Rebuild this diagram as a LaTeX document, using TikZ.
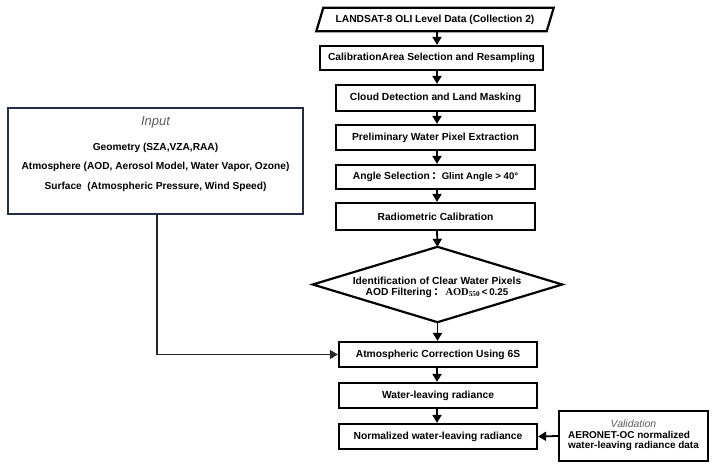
\documentclass[tikz,border=0pt]{standalone}
\usepackage{fontspec}
\setmainfont{Liberation Sans}
\newfontfamily\serifrm{Liberation Serif}
\newfontfamily\cjk{Noto Sans CJK SC}
\usetikzlibrary{arrows.meta}

\definecolor{navy}{HTML}{1F2D4A}
\definecolor{softgray}{HTML}{5C5C5C}

\tikzset{
  x=1bp, y=-1bp,
  boxtext/.style={font=\bfseries\fontsize{10.3}{12}\selectfont, align=center},
  stepbox/.style={boxtext, draw, line width=2.2bp, inner sep=0pt},
  outline/.style={line width=2.2bp, line join=miter},
  arr/.style={line width=1.8bp, -{Triangle[length=8bp,width=9bp]}},
  feed/.style={line width=1.3bp, draw=black!85, -{Triangle[length=8bp,width=9bp]}},
  inlabel/.style={font=\bfseries\fontsize{10.2}{12}\selectfont},
  caption/.style={font=\itshape, text=softgray},
}
\newcommand{\fwcolon}{{\cjk ：}}

\begin{document}
\begin{tikzpicture}
  \useasboundingbox (0,0) rectangle (716,470);

  % x position of the main column of arrows
  \coordinate (ax) at (437,0);

  % source data (parallelogram)
  \node[boxtext, minimum width=230bp, minimum height=23bp, inner sep=0pt] (src) at (435,19.5)
    {LANDSAT-8 OLI Level Data (Collection 2)};
  \draw[outline]
    ([xshift=3.5bp]src.north west) -- ([xshift=3.5bp]src.north east)
    -- ([xshift=-3.5bp]src.south east) -- ([xshift=-3.5bp]src.south west) -- cycle;

  % processing chain
  \node[stepbox, minimum width=223bp, minimum height=24bp] (b2) at (431.5,58)
    {CalibrationArea Selection and Resampling};
  \node[stepbox, minimum width=199bp, minimum height=26bp] (b3) at (435.5,98)
    {Cloud Detection and Land Masking};
  \node[stepbox, minimum width=199bp, minimum height=25bp] (b4) at (435.5,137.5)
    {Preliminary Water Pixel Extraction};
  \node[stepbox, minimum width=199bp, minimum height=24bp] (b5) at (435.5,177)
    {Angle Selection\,\fwcolon{\fontsize{9.6}{10}\selectfont Glint Angle \textgreater\ 40°}};
  \node[stepbox, minimum width=199bp, minimum height=27bp] (b6) at (435.5,216.5)
    {Radiometric Calibration};

  % decision (diamond drawn on the node's anchors)
  \node[minimum width=249bp, minimum height=75bp, inner sep=0pt] (dia) at (437.5,284.5) {};
  \draw[outline] (dia.north) -- (dia.east) -- (dia.south) -- (dia.west) -- cycle;
  \node[boxtext] (diatext) at (437,287.5)
    {Identification of Clear Water Pixels\\[-1.5pt]
     AOD Filtering\,\fwcolon\,{\serifrm\fontsize{10.5}{10}\selectfont AOD\textsubscript{550}}\,{\fontsize{9.8}{10}\selectfont\textless\,0.25}};

  \node[stepbox, minimum width=198bp, minimum height=25bp] (b7) at (438,354.5)
    {Atmospheric Correction Using 6S};
  \node[stepbox, minimum width=198bp, minimum height=25bp] (b8) at (438,395.5)
    {Water-leaving radiance};
  \node[stepbox, minimum width=198bp, minimum height=25bp] (b9) at (438,436.5)
    {Normalized water-leaving radiance};

  % validation data
  \node[draw, line width=2.2bp, minimum width=149bp, minimum height=50bp, inner sep=0pt,
        font=\bfseries\fontsize{10}{12}\selectfont] (val) at (633.5,436)
    {\begin{tabular}{@{}l@{}}
       \multicolumn{1}{@{}c@{}}{\mdseries\itshape\color{softgray}\fontsize{10.5}{12}\selectfont Validation}\\[-1.5pt]
       AERONET-OC normalized\\[-1.5pt]
       water-leaving radiance data
     \end{tabular}};

  % model inputs
  \node[draw=navy, line width=2.2bp, minimum width=295bp, minimum height=106bp, inner sep=0pt] (inp) at (155.5,161) {};
  \node[caption, font=\itshape\fontsize{13}{14}\selectfont] (intitle) at (155.5,122) {Input};
  \node[inlabel] (geo) at (155.5,148) {Geometry (SZA,VZA,RAA)};
  \node[inlabel] (atm) at (155.5,167) {Atmosphere (AOD, Aerosol Model, Water Vapor, Ozone)};
  \node[inlabel] (sfc) at (155.5,187) {Surface\ \ (Atmospheric Pressure, Wind Speed)};

  % connectors
  \draw[arr] (src.south -| ax) -- (b2.north -| ax);
  \draw[arr] (b2.south -| ax) -- (b3.north -| ax);
  \draw[arr] (b3.south -| ax) -- (b4.north -| ax);
  \draw[arr] (b4.south -| ax) -- (b5.north -| ax);
  \draw[arr] (b5.south -| ax) -- (b6.north -| ax);
  \draw[arr] (b6.south -| ax) -- (dia.north);
  \draw[arr] (dia.south) -- (b7.north -| dia.south);
  \draw[arr] (b7.south -| ax) -- (b8.north -| ax);
  \draw[arr] (b8.south -| ax) -- (b9.north -| ax);
  \draw[feed] ([xshift=1.5bp]inp.south) |- (b7.west);
  \draw[arr] (val.west) -- (b9.east);
\end{tikzpicture}
\end{document}
